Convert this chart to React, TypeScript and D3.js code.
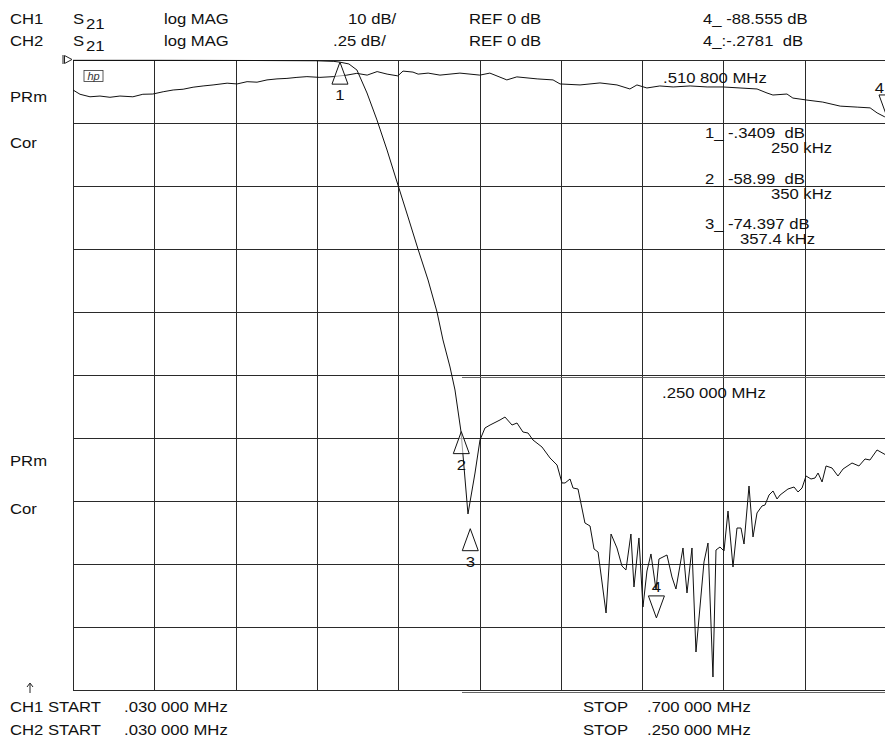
import * as d3 from 'd3';

// CH1: S21 log MAG, 10 dB/div, REF 0 dB, 0.030 - 0.700 MHz (kHz here)
const ch1Freq = [
  30, 100, 180, 230, 245, 250, 257.4, 264, 272.3, 280.5, 288.8, 297.8, 306.1, 314.3, 322.6, 330, 334.9,
  340.7, 344.8, 349.8, 355.5, 361.3, 365.4, 369.5, 373.7, 381.9, 386, 391.8, 395.9, 400.8, 405, 409.1,
  416.5, 423.1, 428.9, 433, 435.5, 439.6, 442.1, 446.2, 451.9, 456.1, 459.4, 462.7, 469.3, 473.4, 478.3,
  482.4, 485.7, 489.8, 492.3, 496.4, 499.7, 503, 506.3, 510.5, 512.9, 519.5, 523.6, 526.9, 532.7, 536,
  540.1, 543.4, 550, 553.3, 557.4, 559.9, 563.2, 566.5, 569.8, 573.9, 577.2, 580.5, 583, 587.1, 590.4,
  593.7, 597.8, 600.3, 603.6, 606.9, 610.2, 612.7, 619.2, 624.2, 627.5, 630.8, 634.1, 638.2, 641.5, 644,
  647.3, 650.6, 655.5, 660.4, 664.6, 672, 677.7, 682.7, 686.8, 692.6, 700,
];
const ch1Db = [
  -0.05, -0.05, -0.08, -0.12, -0.22, -0.34, -0.63, -1.59, -5.24, -9.52, -14.29, -19.84, -24.92, -30, -34.92,
  -40, -44.44, -48.73, -52.38, -59.05, -72.06, -65.56, -60.32, -58.41, -57.94, -57.14, -56.67, -57.94,
  -57.62, -59.05, -59.21, -60.32, -61.43, -63.17, -64.29, -67.14, -67.14, -66.51, -67.94, -68.1, -73.49,
  -73.97, -77.62, -78.1, -87.78, -75.24, -77.46, -80.32, -80.95, -75.24, -83.65, -75.87, -86.83, -81.11,
  -78.41, -84.13, -79.21, -78.57, -82.06, -83.97, -77.46, -84.6, -77.46, -93.97, -79.68, -76.67, -97.94,
  -77.78, -77.3, -77.94, -71.59, -80.48, -74.29, -74.29, -76.83, -67.62, -75.71, -71.9, -70.79, -70.63,
  -69.05, -68.41, -69.68, -69.05, -68.1, -67.78, -68.57, -67.94, -66.03, -66.51, -66.35, -65.56, -66.98,
  -64.44, -64.76, -66.03, -64.92, -63.97, -64.44, -63.33, -63.49, -61.9, -62.7,
];

// CH2: S21 log MAG, .25 dB/div, REF 0 dB, 0.030 - 0.250 MHz (kHz here)
const ch2Freq = [
  30, 31.9, 34.6, 37.3, 40, 42.7, 46.2, 48.9, 51.6, 54.4, 57.1, 59.8, 62.5, 65.2, 67.9, 71.7, 74.4, 77.1,
  79.8, 82.5, 85.2, 87.9, 90.6, 93.3, 96.8, 100.4, 104.1, 106.8, 109.6, 112.3, 115, 117.9, 119.3, 122,
  123.4, 126.1, 129.3, 134.7, 140.1, 142.8, 147.4, 150.1, 155.6, 159.9, 161.8, 167.2, 172.6, 177.2,
  180.7, 182.6, 185.3, 188.8, 192.4, 197, 201.6, 205.9, 210.5, 215.1, 217.8, 219.4, 223.2, 224.8, 228.6,
  232.9, 237.6, 242.2, 245.7, 247.6, 249.7,
];
const ch2Db = [
  -0.119, -0.136, -0.146, -0.143, -0.148, -0.143, -0.146, -0.136, -0.135, -0.126, -0.119, -0.116, -0.108,
  -0.103, -0.099, -0.092, -0.095, -0.086, -0.088, -0.079, -0.075, -0.073, -0.069, -0.066, -0.069, -0.066,
  -0.06, -0.053, -0.06, -0.046, -0.056, -0.063, -0.044, -0.048, -0.056, -0.052, -0.06, -0.052, -0.06,
  -0.052, -0.079, -0.067, -0.075, -0.079, -0.095, -0.099, -0.091, -0.099, -0.115, -0.099, -0.111, -0.103,
  -0.107, -0.103, -0.107, -0.107, -0.111, -0.115, -0.131, -0.139, -0.135, -0.151, -0.159, -0.167, -0.183,
  -0.187, -0.19, -0.21, -0.226,
];

const ch1MarkerFreq = [250, 350, 357.4, 510.8];
const ch1MarkerDb = [-0.3409, -58.99, -74.397, -88.555];
const ch1MarkerNames = ['1', '2', '3', '4'];
const ch1MarkerDown = [false, false, false, true];
const ch2MarkerFreq = [250];
const ch2MarkerDb = [-0.226];
const ch2MarkerNames = ['4'];

const headerRow1 = ['CH1', 'S', '21', 'log MAG', '10 dB/', 'REF 0 dB', '4_ -88.555 dB'];
const headerRow2 = ['CH2', 'S', '21', 'log MAG', '.25 dB/', 'REF 0 dB', '4_:-.2781  dB'];
const sideLabels = ['PRm', 'Cor'];
const markerReadout = [
  ['1_', '-.3409  dB', '250 kHz'],
  ['2_', '-58.99  dB', '350 kHz'],
  ['3_', '-74.397 dB', '357.4 kHz'],
];
const markerFreqLabels = ['.510 800 MHz', '.250 000 MHz'];
const footerStart = [
  ['CH1 START', '.030 000 MHz'],
  ['CH2 START', '.030 000 MHz'],
];
const footerStop = [
  ['STOP', '.700 000 MHz'],
  ['STOP', '.250 000 MHz'],
];

const W = 885;
const H = 740;
const left = 73;
const right = 886;
const top = 60;
const bottom = 690;
const FONT = '"Liberation Sans", Arial, sans-serif';
const FS = 14.5;

const T = ({x, y, text, anchor = 'start', size = FS}: {x: number; y: number; text: string; anchor?: string; size?: number}) => (
  <text
    transform={`translate(${x},${y}) scale(1.15,1)`}
    textAnchor={anchor}
    fontFamily={FONT}
    fontSize={size}
    fill='#111'
    style={{whiteSpace: 'pre'}}
  >
    {text}
  </text>
);

const App = () => {
  const x1 = d3.scaleLinear().domain([30, 700]).range([left, right]);
  const y1 = d3.scaleLinear().domain([0, -100]).range([top, bottom]);
  const x2 = d3.scaleLinear().domain([30, 250]).range([left, right]);
  const y2 = d3.scaleLinear().domain([0, -2.5]).range([top, bottom]);

  const vLines = d3.range(11).map((i) => Math.round(x1(30 + i * 67)));
  const hLines = d3.range(11).map((i) => Math.round(y1(-i * 10)));

  const line1 = d3
    .line<number>()
    .x((_, i) => x1(ch1Freq[i]))
    .y((d) => y1(d));
  const line2 = d3
    .line<number>()
    .x((_, i) => x2(ch2Freq[i]))
    .y((d) => y2(d));

  const tri = (x: number, y: number, down: boolean) =>
    down
      ? `M${x},${y}L${x - 8},${y - 22}L${x + 8},${y - 22}Z`
      : `M${x},${y}L${x - 8},${y + 22}L${x + 8},${y + 22}Z`;

  return (
    <svg
      width={W}
      height={H}
      style={{position: 'absolute', left: 0, top: 0, background: '#fff'}}
    >
      {/* header */}
      {[headerRow1, headerRow2].map((row, r) => {
        const by = r === 0 ? 24 : 46;
        const xs = [10, 73, 86, 164, r === 0 ? 348 : 333, 469, 703];
        return row.map((t, i) => (
          <T key={`h${r}${i}`} x={xs[i]} y={i === 2 ? by + 5 : by} text={t} />
        ));
      })}

      {/* grid */}
      <g stroke='#2a2a2a' strokeWidth={1} shapeRendering='crispEdges'>
        {vLines.map((x, i) => (
          <line key={`v${i}`} x1={x + 0.5} x2={x + 0.5} y1={top} y2={bottom} />
        ))}
        {hLines.map((y, i) => (
          <line key={`g${i}`} x1={left} x2={right} y1={y + 0.5} y2={y + 0.5} />
        ))}
      </g>
      <g stroke='#666' strokeWidth={1} shapeRendering='crispEdges'>
        <line x1={462} x2={right} y1={377.5} y2={377.5} />
        <line x1={462} x2={right} y1={692.5} y2={692.5} />
      </g>

      {/* reference position marker */}
      <path d={`M63,55V64M64.5,55.5L72,59.5L64.5,63.5Z`} fill='none' stroke='#222' strokeWidth={1} />
      {/* hp logo */}
      <rect x={84} y={70.5} width={19} height={11} fill='none' stroke='#333' strokeWidth={0.8} />
      <text x={93.5} y={80} textAnchor='middle' fontFamily={FONT} fontStyle='italic' fontSize={11} fill='#333'>
        hp
      </text>

      {/* side labels */}
      {sideLabels.map((t, i) => (
        <T key={`s1${i}`} x={10} y={i === 0 ? 102 : 148} text={t} />
      ))}
      {sideLabels.map((t, i) => (
        <T key={`s2${i}`} x={10} y={i === 0 ? 466 : 514} text={t} />
      ))}

      {/* traces */}
      <path d={line2(ch2Db) || ''} fill='none' stroke='#111' strokeWidth={1} />
      <path d={line1(ch1Db) || ''} fill='none' stroke='#111' strokeWidth={1} />

      {/* markers */}
      {ch1MarkerFreq.map((f, i) => {
        const mx = x1(f);
        const my = y1(ch1MarkerDb[i]);
        const down = ch1MarkerDown[i];
        return (
          <g key={`m${i}`}>
            <path d={tri(mx, my, down)} fill='#fff' fillOpacity={0.6} stroke='#111' strokeWidth={1} />
            <T x={mx} y={down ? my - 26 : my + 38} text={ch1MarkerNames[i]} anchor='middle' />
          </g>
        );
      })}
      {ch2MarkerFreq.map((f, i) => {
        const mx = x2(f) + 1;
        const my = y2(ch2MarkerDb[i]);
        return (
          <g key={`n${i}`}>
            <path d={tri(mx, my, true)} fill='#fff' fillOpacity={0.6} stroke='#111' strokeWidth={1} />
            <T x={884} y={my - 24} text={ch2MarkerNames[i]} anchor='end' />
          </g>
        );
      })}

      {/* marker readouts */}
      {markerReadout.map((row, i) => {
        const by = 138 + i * 45.5;
        return (
          <g key={`r${i}`}>
            <T x={705} y={by} text={row[0]} />
            <T x={728} y={by} text={row[1]} />
            <T x={i === 2 ? 815 : 832} y={by + 15} text={row[2]} anchor='end' />
          </g>
        );
      })}
      <T x={663} y={83} text={markerFreqLabels[0]} />
      <T x={662} y={398} text={markerFreqLabels[1]} />

      {/* footer */}
      <path d='M30,693V684M27,687L30,683L33,687' fill='none' stroke='#222' strokeWidth={1} />
      {footerStart.map((row, i) => (
        <g key={`fs${i}`}>
          <T x={10} y={712 + i * 23} text={row[0]} />
          <T x={124} y={712 + i * 23} text={row[1]} />
        </g>
      ))}
      {footerStop.map((row, i) => (
        <g key={`fp${i}`}>
          <T x={583} y={712 + i * 23} text={row[0]} />
          <T x={647} y={712 + i * 23} text={row[1]} />
        </g>
      ))}
    </svg>
  );
};

export default App;
